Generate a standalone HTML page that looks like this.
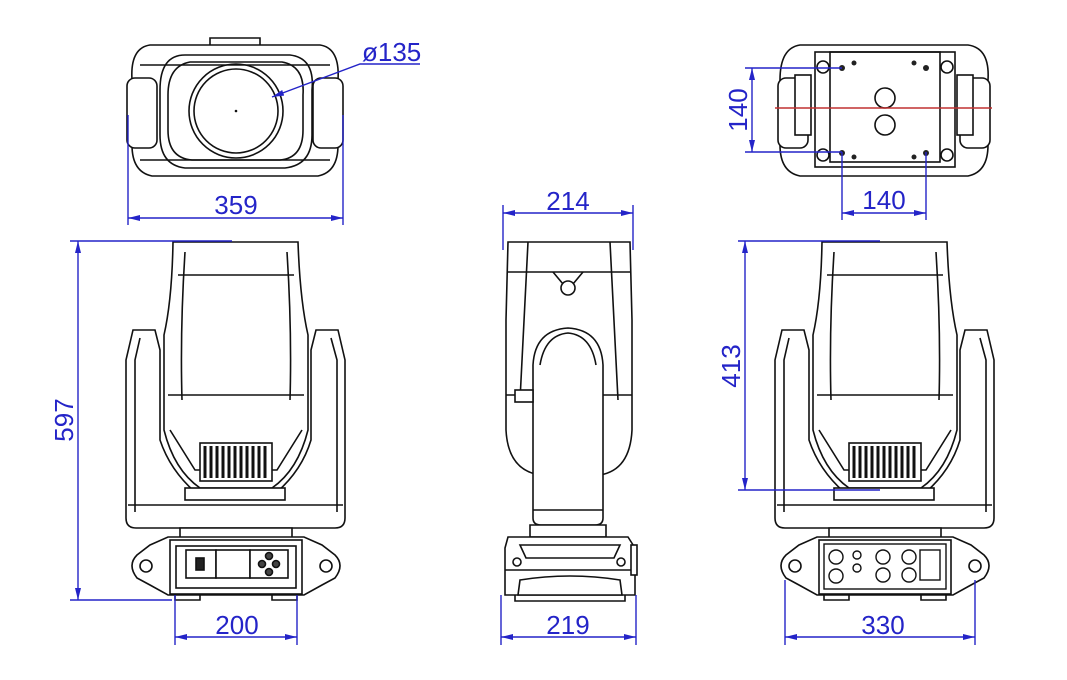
<!DOCTYPE html>
<html><head><meta charset="utf-8"><style>
html,body{margin:0;padding:0;background:#fff}
svg{display:block}
text{font-family:"Liberation Sans",sans-serif;font-size:26px;fill:#2424c8}
</style></head><body>
<svg width="1067" height="680" viewBox="0 0 1067 680" xmlns="http://www.w3.org/2000/svg">
<defs>
<marker id="a" viewBox="0 0 12 6" refX="12" refY="3" markerWidth="12" markerHeight="6" orient="auto-start-reverse" markerUnits="userSpaceOnUse"><path d="M0,0 L12,3 L0,6 Z" fill="#2424c8"/></marker>
<g id="front" fill="#fff" stroke="#111" stroke-width="1.6">
 <!-- yoke -->
 <path d="M133,330 H155 L160,350 V440 Q170,470 195,492 H277 Q302,470 311,440 V350 L316,330 H338 L345,360 V518 Q345,528 335,528 H136 Q126,528 126,518 V360 Z"/>
 <path d="M140,338 L135,360 V512" fill="none"/>
 <path d="M331,338 L337,360 V512" fill="none"/>
 <path d="M128,505 H343" fill="none"/>
 <!-- head -->
 <path d="M173,242 H298 Q300,300 308,335 L308,430 Q298,470 272,488 H200 Q174,470 164,430 L164,335 Q172,300 173,242 Z"/>
 <path d="M178,275 H294 M168,395 H304 M185,252 Q180,330 182,400 M287,252 Q292,330 290,400" fill="none"/>
 <path d="M170,430 L195,470 H277 L302,430" fill="none"/>
 <rect x="200" y="443" width="72" height="38" fill="#fff"/>
 <path d="M205,446V478M211,446V478M217,446V478M223,446V478M229,446V478M235,446V478M241,446V478M247,446V478M253,446V478M259,446V478M265,446V478" stroke-width="3" fill="none"/>
 <rect x="185" y="488" width="100" height="12"/>
 <!-- connector -->
 <path d="M180,528 H292 V538 H180 Z"/>
 <!-- base -->
 <path d="M150,545 L168,537 H304 L322,545 L335,555 Q345,565 335,578 L322,585 L304,595 H168 L150,585 L137,578 Q127,565 137,555 Z"/>
 <circle cx="146" cy="566" r="6"/><circle cx="326" cy="566" r="6"/>
 <rect x="170" y="540" width="132" height="54"/>
 <rect x="176" y="546" width="120" height="42"/>
 <rect x="186" y="550" width="30" height="28"/><rect x="216" y="550" width="34" height="28"/><rect x="250" y="550" width="38" height="28"/>
 <rect x="196" y="558" width="8" height="12" fill="#222"/>
 <circle cx="269" cy="556" r="3.5" fill="#444"/><circle cx="262" cy="564" r="3.5" fill="#444"/><circle cx="276" cy="564" r="3.5" fill="#444"/><circle cx="269" cy="572" r="3.5" fill="#444"/>
 <path d="M175,595 V600 H200 V595 M272,595 V600 H297 V595" fill="none"/>
</g>
</defs>

<!-- ===== top view left ===== -->
<g fill="#fff" stroke="#111" stroke-width="1.6">
 <path d="M150,45 H320 Q340,48 338,80 V145 Q338,172 318,176 H152 Q132,172 132,145 V80 Q130,48 150,45 Z"/>
 <rect x="127" y="78" width="30" height="70" rx="8"/>
 <rect x="313" y="78" width="30" height="70" rx="8"/>
 <path d="M185,55 H290 Q315,58 312,90 V135 Q312,165 285,168 H185 Q160,165 160,135 V90 Q160,55 185,55 Z"/>
 <path d="M190,62 H282 Q305,66 303,95 V130 Q303,158 280,160 H192 Q168,158 168,130 V95 Q168,66 190,62 Z"/>
 <circle cx="236" cy="111" r="47"/>
 <circle cx="236" cy="111" r="42"/>
 <path d="M210,45 V38 H260 V45 M140,65 H330 M140,160 H330" fill="none"/>
</g>
<circle cx="236" cy="111" r="1.3" fill="#111"/>
<g stroke="#2424c8" stroke-width="1.4" fill="none">
 <path d="M420,64 H360 L272,97" marker-end="url(#a)"/>
 <path d="M128,115 V225 M343,115 V225"/>
 <path d="M128,218 H343" marker-start="url(#a)" marker-end="url(#a)"/>
</g>
<text x="362" y="61">ø135</text>
<text x="236" y="214" text-anchor="middle">359</text>

<!-- ===== front view left ===== -->
<use href="#front"/>
<g stroke="#2424c8" stroke-width="1.4" fill="none">
 <path d="M70,241 H232 M70,600 H172"/>
 <path d="M78,241 V600" marker-start="url(#a)" marker-end="url(#a)"/>
 <path d="M175,595 V645 M297,595 V645"/>
 <path d="M175,637 H297" marker-start="url(#a)" marker-end="url(#a)"/>
</g>
<text x="237" y="634" text-anchor="middle">200</text>
<text transform="translate(73,420) rotate(-90)" text-anchor="middle">597</text>

<!-- ===== side view ===== -->
<g fill="#fff" stroke="#111" stroke-width="1.6">
 <path d="M508,242 H630 L632,320 V430 Q630,470 600,475 H540 Q508,470 506,430 V320 Z"/>
 <path d="M508,272 H630 M506,395 H632 M528,242 L520,400 M610,242 L618,400" fill="none"/>
 <path d="M553,272 L568,290 L583,272" fill="none"/>
 <circle cx="568" cy="288" r="7"/>
 <path d="M533,365 Q535,330 568,328 Q601,330 603,365 V518 Q603,525 595,525 H541 Q533,525 533,518 Z"/>
 <path d="M540,365 Q545,335 568,333 Q591,335 596,365" fill="none"/>
 <path d="M533,510 H603" fill="none"/>
 <rect x="515" y="390" width="18" height="12"/>
 <path d="M530,525 H606 V537 H530 Z"/>
 <path d="M508,537 H628 L635,548 V595 H505 V548 Z"/>
 <path d="M520,545 H620 L614,558 H526 Z M505,570 H635 M520,580 Q570,572 620,580 L622,595 H518 Z" />
 <path d="M515,595 V601 H625 V595" fill="none"/>
 <circle cx="517" cy="562" r="4"/><circle cx="621" cy="562" r="4"/>
 <rect x="631" y="545" width="6" height="30"/>
</g>
<g stroke="#2424c8" stroke-width="1.4" fill="none">
 <path d="M503,205 V250 M633,205 V250"/>
 <path d="M503,213 H633" marker-start="url(#a)" marker-end="url(#a)"/>
 <path d="M501,595 V645 M636,595 V645"/>
 <path d="M501,637 H636" marker-start="url(#a)" marker-end="url(#a)"/>
</g>
<text x="568" y="210" text-anchor="middle">214</text>
<text x="568" y="634" text-anchor="middle">219</text>

<!-- ===== top view right (bottom) ===== -->
<g fill="#fff" stroke="#111" stroke-width="1.6">
 <path d="M800,45 H968 Q990,48 988,80 V145 Q988,172 968,176 H800 Q780,172 780,145 V80 Q780,48 800,45 Z"/>
 <rect x="778" y="78" width="30" height="70" rx="8"/>
 <rect x="960" y="78" width="30" height="70" rx="8"/>
 <rect x="795" y="75" width="16" height="60"/>
 <rect x="957" y="75" width="16" height="60"/>
 <rect x="830" y="52" width="110" height="110"/>
 <rect x="815" y="52" width="140" height="115" fill="none"/>
 <circle cx="885" cy="98" r="10"/><circle cx="885" cy="125" r="10"/>
 <circle cx="823" cy="67" r="6"/><circle cx="947" cy="67" r="6"/><circle cx="823" cy="155" r="6"/><circle cx="947" cy="155" r="6"/>
</g>
<g fill="#222"><circle cx="842" cy="68" r="3"/><circle cx="926" cy="68" r="3"/><circle cx="842" cy="153" r="3"/><circle cx="926" cy="153" r="3"/><circle cx="854" cy="63" r="2.5"/><circle cx="914" cy="63" r="2.5"/><circle cx="854" cy="157" r="2.5"/><circle cx="914" cy="157" r="2.5"/></g>
<path d="M775,108 H992" stroke="#c03030" stroke-width="1.4"/>
<g stroke="#2424c8" stroke-width="1.4" fill="none">
 <path d="M745,68 H842 M745,152 H842"/>
 <path d="M752,68 V152" marker-start="url(#a)" marker-end="url(#a)"/>
 <path d="M842,152 V220 M926,152 V220"/>
 <path d="M842,213 H926" marker-start="url(#a)" marker-end="url(#a)"/>
</g>
<text transform="translate(747,110) rotate(-90)" text-anchor="middle">140</text>
<text x="884" y="209" text-anchor="middle">140</text>

<!-- ===== front view right ===== -->
<use href="#front" transform="translate(649,0)"/>
<g fill="#fff" stroke="#111" stroke-width="1.4">
 <rect x="824" y="544" width="122" height="45"/>
 <circle cx="836" cy="557" r="7"/><circle cx="836" cy="576" r="7"/>
 <circle cx="857" cy="555" r="4"/><circle cx="857" cy="568" r="4"/>
 <circle cx="883" cy="557" r="7"/><circle cx="883" cy="575" r="7"/>
 <circle cx="909" cy="557" r="7"/><circle cx="909" cy="575" r="7"/>
 <rect x="920" y="550" width="20" height="30"/>
</g>
<g stroke="#2424c8" stroke-width="1.4" fill="none">
 <path d="M738,241 H880 M738,490 H880"/>
 <path d="M745,241 V490" marker-start="url(#a)" marker-end="url(#a)"/>
 <path d="M785,580 V645 M975,580 V645"/>
 <path d="M785,637 H975" marker-start="url(#a)" marker-end="url(#a)"/>
</g>
<text transform="translate(740,366) rotate(-90)" text-anchor="middle">413</text>
<text x="883" y="634" text-anchor="middle">330</text>
</svg>
</body></html>
